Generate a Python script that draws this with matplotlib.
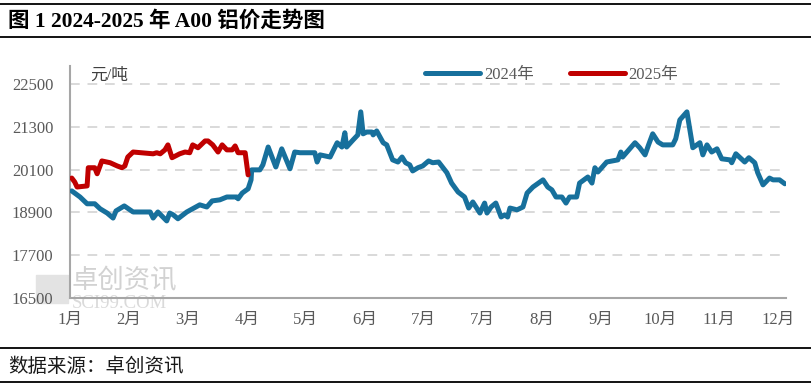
import numpy as np
import matplotlib.pyplot as plt
from matplotlib.lines import Line2D
from matplotlib.patches import Rectangle

# x positions are in month units (0 = 1月 tick), values in 元/吨
x_2024 = [0.03, 0.17, 0.29, 0.42, 0.51, 0.63, 0.73, 0.78, 0.92, 1.07, 1.36, 1.41, 1.49, 1.64,
          1.69, 1.75, 1.83, 1.98, 2.08, 2.20, 2.32, 2.41, 2.54, 2.66, 2.83, 2.85, 2.92, 3.02,
          3.07, 3.08, 3.22, 3.27, 3.36, 3.49, 3.59, 3.73, 3.81, 3.90, 4.15, 4.19, 4.24, 4.41,
          4.53, 4.61, 4.66, 4.69, 4.80, 4.88, 4.93, 4.97, 5.03, 5.12, 5.14, 5.20, 5.31, 5.37,
          5.47, 5.56, 5.63, 5.69, 5.76, 5.81, 5.90, 5.98, 6.08, 6.15, 6.25, 6.39, 6.47, 6.58,
          6.69, 6.76, 6.83, 6.95, 7.03, 7.07, 7.14, 7.22, 7.31, 7.37, 7.42, 7.46, 7.58, 7.68,
          7.75, 7.85, 8.02, 8.10, 8.17, 8.24, 8.34, 8.41, 8.47, 8.59, 8.64, 8.78, 8.85, 8.90,
          8.95, 9.10, 9.29, 9.34, 9.37, 9.58, 9.66, 9.75, 9.81, 9.88, 9.97, 10.05, 10.22, 10.27,
          10.34, 10.46, 10.56, 10.68, 10.73, 10.80, 10.88, 10.97, 11.05, 11.19, 11.22, 11.29,
          11.44, 11.51, 11.61, 11.66, 11.75, 11.86, 11.92, 12.03, 12.12]
price_2024 = [19500, 19330, 19140, 19140, 19000, 18880, 18740, 18940, 19080, 18910, 18910, 18740,
              18910, 18660, 18880, 18830, 18720, 18910, 19000, 19110, 19050, 19220, 19250, 19330,
              19330, 19280, 19440, 19560, 19810, 20090, 20090, 20230, 20730, 20170, 20680, 20120,
              20590, 20570, 20570, 20310, 20510, 20450, 20850, 20730, 21130, 20730, 20930, 21070,
              21715, 21100, 21150, 21150, 21070, 21180, 20850, 20790, 20370, 20310, 20450, 20290,
              20230, 20060, 20150, 20200, 20340, 20290, 20310, 20010, 19720, 19470, 19330, 19020,
              19190, 18880, 19160, 18880, 19050, 19160, 18770, 18830, 18770, 19020, 18970, 19050,
              19440, 19610, 19810, 19610, 19530, 19330, 19330, 19160, 19330, 19330, 19720, 19890,
              19720, 20150, 20030, 20310, 20370, 20590, 20450, 20850, 20710, 20510, 20790, 21100,
              20870, 20790, 20790, 20960, 21490, 21715, 20710, 20850, 20510, 20790, 20590, 20680,
              20400, 20370, 20290, 20540, 20310, 20430, 20290, 20010, 19670, 19860, 19810, 19810,
              19700]

x_2025 = [0.03, 0.08, 0.12, 0.29, 0.31, 0.42, 0.46, 0.54, 0.68, 0.80, 0.88, 0.93, 0.98, 1.07,
          1.41, 1.47, 1.53, 1.61, 1.66, 1.73, 1.86, 1.95, 2.03, 2.08, 2.17, 2.29, 2.34, 2.42,
          2.51, 2.58, 2.66, 2.75, 2.80, 2.85, 2.97, 3.02]
price_2025 = [19860, 19750, 19610, 19640, 20150, 20150, 19980, 20340, 20290, 20200, 20150, 20200,
              20450, 20590, 20540, 20570, 20540, 20650, 20790, 20430, 20540, 20590, 20570, 20790,
              20710, 20900, 20900, 20790, 20590, 20790, 20650, 20650, 20760, 20570, 20570, 19950]

month_labels = ['1月', '2月', '3月', '4月', '5月', '6月', '7月', '7月', '8月', '9月', '10月', '11月', '12月']
y_ticks = [16500, 17700, 18900, 20100, 21300, 22500]

fonts = ['Liberation Serif', 'Noto Sans CJK SC']
plt.rcParams['font.family'] = fonts

fig = plt.figure(figsize=(8.11, 3.86), dpi=100)

# watermark (behind the axes)
fig.patches.append(Rectangle((36 / 811, 1 - 303 / 386), 32 / 811, 28 / 386,
                             transform=fig.transFigure, color='#e3e3e3', zorder=-5))
fig.text(72 / 811, 1 - 281 / 386, '卓创资讯', fontsize=19, color='#d2d2d2',
         family='Noto Sans CJK SC', va='center', zorder=-5)
fig.text(72 / 811, 1 - 303 / 386, 'SCI99.COM', fontsize=13.5, color='#dadada',
         va='center', zorder=-5)

ax = fig.add_axes([70 / 811, 88 / 386, 716 / 811, 232 / 386])
ax.patch.set_alpha(0)

ax.plot(x_2024, price_2024, color='#17709C', lw=3.6, solid_capstyle='round',
        solid_joinstyle='round', label='2024年', zorder=3)
ax.plot(x_2025, price_2025, color='#C00000', lw=3.6, solid_capstyle='round',
        solid_joinstyle='round', label='2025年', zorder=3)

ax.set_xlim(0, 12.14)
ax.set_ylim(16500, 23000)
ax.set_yticks(y_ticks)
ax.set_xticks(range(len(month_labels)))
ax.set_xticklabels(month_labels)
ax.tick_params(axis='both', length=0, labelsize=12, colors='#595959')
ax.tick_params(axis='y', pad=12)
ax.tick_params(axis='x', pad=10)
ax.grid(axis='y', color='#d9d9d9', lw=1.4, ls=(0, (5, 4)))
ax.set_axisbelow(True)
for s in ['top', 'right']:
    ax.spines[s].set_visible(False)
for s in ['left', 'bottom']:
    ax.spines[s].set_color('#a6a6a6')
    ax.spines[s].set_linewidth(1.5)

ax.text(0.028, 0.96, '元/吨', transform=ax.transAxes, fontsize=12, color='#404040', va='center')

leg = ax.legend(loc='center', bbox_to_anchor=(0.673, 0.961), ncol=2, frameon=False,
                fontsize=12, handlelength=3.3, columnspacing=2.2, handletextpad=0.2)
for t in leg.get_texts():
    t.set_color('#595959')

# title / source frame
fig.text(8 / 811, 1 - 21 / 386, '图 1 2024-2025 年 A00 铝价走势图', fontsize=15.5,
         weight='bold', va='center', color='black')
fig.text(8 / 811, 1 - 366 / 386, '数据来源：卓创资讯', fontsize=14, va='center',
         color='#1a1a1a', family='Noto Sans CJK SC')
for yy in [4, 37, 348, 382]:
    fig.add_artist(Line2D([0, 1], [1 - yy / 386] * 2, color='black', lw=1.3,
                          transform=fig.transFigure))

fig.savefig('out.png', dpi=100)
